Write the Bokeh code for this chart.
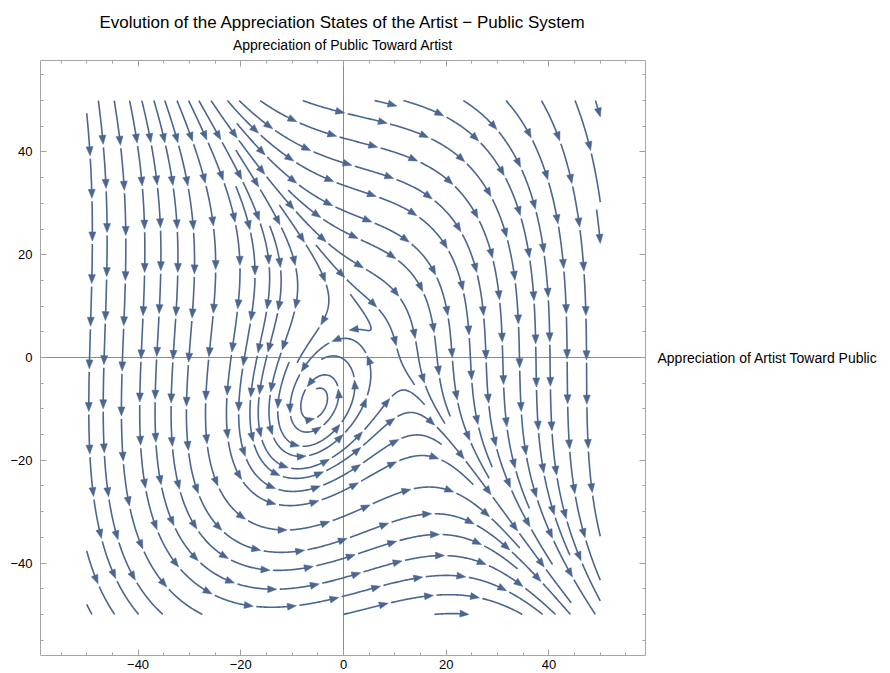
import numpy as np
from bokeh.plotting import figure
from bokeh.models import Range1d, LinearAxis, Span, FixedTicker
from bokeh.embed import file_html
from bokeh.resources import INLINE

# ---------------- values ----------------
title_text = "Evolution of the Appreciation States of the Artist \u2212 Public System"
x_label_text = "Appreciation of Artist Toward Public"
y_label_text = "Appreciation of Public Toward Artist"
x_view = [-59.0, 58.8]
y_view = [-58.0, 57.8]
field_box = [-50.0, 50.0, -50.0, 50.0]
major_ticks = [-40, -20, 0, 20, 40]
major_tick_labels = ["\u221240", "\u221220", "0", "20", "40"]
minor_ticks = [-55, -50, -45, -35, -30, -25, -15, -10, -5, 5, 10, 15, 25, 30, 35, 45, 50, 55]

# starting points of streamlines as read on the picture
start_x = [-49.9, -47.7, -44.6, -41.6, -39.2, -37.3, -34.7, -32.3, -28.0, -25.6, -20.0,
           -15.8, -7.1, 12.7, 23.8, 31.9, 38.7, 45.2, 0.4, -49.9]
start_y = [46.5, 49.7, 49.7, 49.7, 49.7, 49.7, 49.7, 49.7, 49.7, 49.7, 49.7,
           49.7, 49.7, 49.7, 49.7, 49.7, 49.7, 49.7, -49.9, -38.0]

# equilibria seen in the picture: focus (-5.5,-8.8), saddle (8,2)
focus_point = [-5.5, -8.8]
saddle_point = [8.0, 2.0]
# vector field
# u = a*(y-y0)^2 * w(x,y) - b + c*x*phi(x) + g*x*y
#     w = 1/(1+(x/s)^2 * (1+y/50)/2), phi = 1/(1+(x/r)^2)
# v = -(x - xm)^2 + h - f*y
u_coef = [0.4884, 1.5, 31.84, 4.237, 0.06, 50.0, 25.0]
v_coef = [3.5, 31.5, 5.63]

# ---------------- layout ----------------
W, H = 890, 673
BL, BR, BT, BB = 40, 245, 60, 18
FW, FH = W - BL - BR, H - BT - BB
SX = FW / (x_view[1] - x_view[0])
SY = FH / (y_view[1] - y_view[0])

LINE_COLOR = "#4a6691"


def field(x, y):
    a, y0, b, c, g, s, r = u_coef
    xm, h, f = v_coef
    sig = min(1.0, max(0.0, 0.5 * (1.0 + y / 50.0)))
    w = 1.0 / (1.0 + (x / s) ** 2 * sig)
    phi = 1.0 / (1.0 + (x / r) ** 2)
    u = a * (y - y0) ** 2 * w - b + c * x * phi + g * x * y
    v = -(x - xm) ** 2 + h - f * y
    return u, v


def unit_dir(x, y):
    u, v = field(x, y)
    n = (u * u + v * v) ** 0.5
    if n < 1e-9:
        return None
    return u / n, v / n


def rk4(x, y, h):
    k1 = unit_dir(x, y)
    if k1 is None:
        return None
    k2 = unit_dir(x + 0.5 * h * k1[0], y + 0.5 * h * k1[1])
    if k2 is None:
        return None
    k3 = unit_dir(x + 0.5 * h * k2[0], y + 0.5 * h * k2[1])
    if k3 is None:
        return None
    k4 = unit_dir(x + h * k3[0], y + h * k3[1])
    if k4 is None:
        return None
    return (x + h * (k1[0] + 2 * k2[0] + 2 * k3[0] + k4[0]) / 6.0,
            y + h * (k1[1] + 2 * k2[1] + 2 * k3[1] + k4[1]) / 6.0)


DSEP = 3.7
DTEST = 1.6
STEP = 0.2
MAXSTEP = 3000
WIN = int(3 * DTEST / STEP)
CELL = 2.0
glob = {}


def key(x, y):
    return (int(np.floor(x / CELL)), int(np.floor(y / CELL)))


def add_pt(g, x, y, tag):
    g.setdefault(key(x, y), []).append((x, y, tag))


def near(g, x, y, d, idx=None):
    kx, ky = key(x, y)
    r = int(np.ceil(d / CELL))
    d2 = d * d
    for i in range(kx - r, kx + r + 1):
        for j in range(ky - r, ky + r + 1):
            for (px, py, t) in g.get((i, j), ()):
                if idx is not None and abs(t - idx) < WIN:
                    continue
                if (px - x) ** 2 + (py - y) ** 2 < d2:
                    return True
    return False


def inside(x, y):
    return field_box[0] <= x <= field_box[1] and field_box[2] <= y <= field_box[3]


def clip(x, y, nx, ny):
    t = 1.0
    if nx < field_box[0]:
        t = min(t, (field_box[0] - x) / (nx - x))
    if nx > field_box[1]:
        t = min(t, (field_box[1] - x) / (nx - x))
    if ny < field_box[2]:
        t = min(t, (field_box[2] - y) / (ny - y))
    if ny > field_box[3]:
        t = min(t, (field_box[3] - y) / (ny - y))
    return x + t * (nx - x), y + t * (ny - y)


def trace(x0, y0):
    own = {}
    add_pt(own, x0, y0, 0)
    halves = []
    for sgn in (1, -1):
        pts = []
        x, y = x0, y0
        for k in range(1, MAXSTEP):
            nxt = rk4(x, y, sgn * STEP)
            if nxt is None:
                break
            nx, ny = nxt
            if not inside(nx, ny):
                pts.append(clip(x, y, nx, ny))
                break
            if near(glob, nx, ny, DTEST):
                break
            if near(own, nx, ny, DTEST, sgn * k):
                break
            if ((nx - focus_point[0]) ** 2 + (ny - focus_point[1]) ** 2) < 0.5:
                break
            pts.append((nx, ny))
            add_pt(own, nx, ny, sgn * k)
            x, y = nx, ny
        halves.append(pts)
    fw, bw = halves
    return bw[::-1] + [(x0, y0)] + fw


def length(line):
    a = np.array(line)
    return float(np.sum(np.hypot(np.diff(a[:, 0]), np.diff(a[:, 1]))))


lines = []
first = [(float(a), float(b)) for a, b in zip(start_x, start_y)]
queue = []
gx = np.arange(-48, 49, 6.0)
grid_seeds = [(float(a), float(b)) for b in gx[::-1] for a in gx]
gi = 0
while first or queue or gi < len(grid_seeds):
    if first:
        sx, sy = first.pop(0)
        dmin = DTEST * 1.2
    elif queue:
        sx, sy = queue.pop(0)
        dmin = DSEP * 0.95
    else:
        sx, sy = grid_seeds[gi]
        gi += 1
        dmin = DSEP * 0.95
    if not inside(sx, sy) or near(glob, sx, sy, dmin):
        continue
    ln = trace(sx, sy)
    if len(ln) < 3 or length(ln) < 1.6:
        continue
    lines.append(ln)
    for (px, py) in ln[::2]:
        add_pt(glob, px, py, 0)
    arr = np.array(ln)
    for i in range(0, len(arr), 8):
        i0, i1 = max(0, i - 1), min(len(arr) - 1, i + 1)
        t = arr[i1] - arr[i0]
        n = np.hypot(*t)
        if n == 0:
            continue
        nrm = np.array([-t[1], t[0]]) / n
        for s in (1, -1):
            c = arr[i] + s * DSEP * nrm
            queue.append((float(c[0]), float(c[1])))

# ---------------- decorate streamlines as chains of arrows ----------------
PIECE = 44.0
GAP = 3.0
HEAD_L = 9.0
HEAD_W = 3.5
seg_xs, seg_ys, head_xs, head_ys = [], [], [], []
for ln in lines:
    Q = np.array(ln) * np.array([SX, SY])
    S = np.concatenate([[0.0], np.cumsum(np.hypot(np.diff(Q[:, 0]), np.diff(Q[:, 1])))])
    total = S[-1]
    if total < 4:
        continue

    def at(s):
        return np.array([np.interp(s, S, Q[:, 0]), np.interp(s, S, Q[:, 1])])

    n = max(1, int(round(total / PIECE)))
    L = total / n
    for i in range(n):
        a = i * L + (GAP if i > 0 else 0.0)
        b = (i + 1) * L
        head = (i < n - 1) or (n == 1 and total > 14)
        e = b - HEAD_L * 0.6 if head else b
        if e - a > 1.0:
            m = (S > a) & (S < e)
            pts = np.vstack([at(a), Q[m], at(e)])
            seg_xs.append((pts[:, 0] / SX).tolist())
            seg_ys.append((pts[:, 1] / SY).tolist())
        if head:
            tip = at(b)
            back = at(max(0.0, b - 4.0))
            t = tip - back
            nt = np.hypot(*t)
            if nt == 0:
                continue
            t = t / nt
            nr = np.array([-t[1], t[0]])
            base = tip - HEAD_L * t
            tri = np.array([tip, base + HEAD_W * nr, base - HEAD_W * nr])
            head_xs.append((tri[:, 0] / SX).tolist())
            head_ys.append((tri[:, 1] / SY).tolist())

# ---------------- figure ----------------
p = figure(width=W, height=H, x_range=Range1d(*x_view), y_range=Range1d(*y_view),
           output_backend="svg", toolbar_location=None,
           x_axis_location=None, y_axis_location=None, title=title_text,
           min_border_left=BL, min_border_right=BR, min_border_top=BT, min_border_bottom=BB)
p.grid.visible = False
p.outline_line_color = "#a6a6a6"
p.outline_line_width = 1
p.background_fill_color = "white"
p.border_fill_color = "white"
p.title.align = "center"
p.title.text_font = "Liberation Sans"
p.title.text_font_size = "17px"
p.title.text_font_style = "normal"
p.title.text_color = "black"
p.title.standoff = 3


def make_axis(labels):
    ax = LinearAxis(ticker=FixedTicker(ticks=major_ticks, minor_ticks=minor_ticks))
    ax.axis_line_color = None
    ax.major_tick_in = 6
    ax.major_tick_out = 0
    ax.minor_tick_in = 3
    ax.minor_tick_out = 0
    ax.major_tick_line_color = "#a0a0a0"
    ax.minor_tick_line_color = "#a0a0a0"
    ax.major_label_text_font = "Liberation Sans"
    ax.major_label_text_color = "black"
    ax.axis_label_text_font = "Liberation Sans"
    ax.axis_label_text_font_style = "normal"
    ax.axis_label_text_font_size = "14px"
    ax.axis_label_text_color = "black"
    if labels:
        ax.major_label_overrides = dict(zip(major_ticks, major_tick_labels))
        ax.major_label_text_font_size = "13px"
    else:
        ax.major_label_overrides = {t: "" for t in major_ticks}
        ax.major_label_text_font_size = "1px"
        ax.major_label_standoff = 0
    return ax


ax_l = make_axis(True)
ax_l.major_label_standoff = 8
ax_b = make_axis(True)
ax_b.major_label_standoff = 4
ax_r = make_axis(False)
ax_r.axis_label = x_label_text
ax_r.axis_label_orientation = "horizontal"
ax_r.axis_label_standoff = 12
ax_t = make_axis(False)
ax_t.axis_label = y_label_text
ax_t.axis_label_standoff = 8
p.add_layout(ax_l, "left")
p.add_layout(ax_b, "below")
p.add_layout(ax_r, "right")
p.add_layout(ax_t, "above")

p.add_layout(Span(location=0, dimension="width", line_color="#8a8a8a", line_width=1, level="underlay"))
p.add_layout(Span(location=0, dimension="height", line_color="#8a8a8a", line_width=1, level="underlay"))

p.multi_line(seg_xs, seg_ys, line_color=LINE_COLOR, line_width=1.6, line_cap="butt", line_join="round")
p.patches(head_xs, head_ys, fill_color=LINE_COLOR, line_color=LINE_COLOR, line_width=0.5)

open("out.html", "w").write(file_html(p, INLINE))
